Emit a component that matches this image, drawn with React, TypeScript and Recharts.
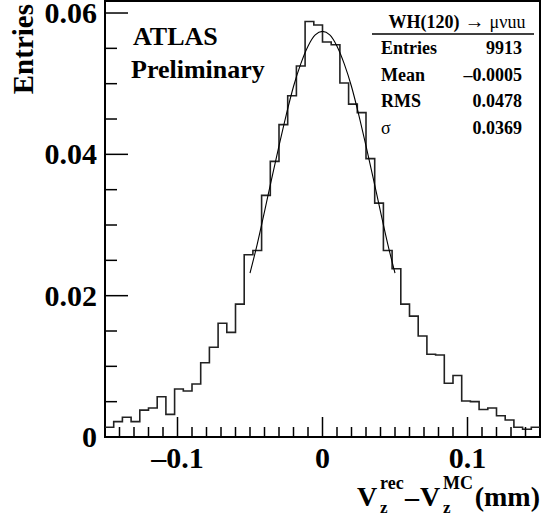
import { ComposedChart, Line, XAxis, YAxis, ReferenceArea } from "recharts";

// histogram: 50 bins of 0.006 from -0.15 to 0.15
const binLo = -0.15;
const binWidth = 0.006;
const binValues = [
  0.00137, 0.00217, 0.0028, 0.00217, 0.0038, 0.0041, 0.0057, 0.0032, 0.0068, 0.0065,
  0.0075, 0.0105, 0.0127, 0.0161, 0.0148, 0.0188, 0.0258, 0.0264, 0.0342, 0.039,
  0.0442, 0.0483, 0.0525, 0.0588, 0.0583, 0.0559, 0.0555, 0.0501, 0.0471, 0.0459,
  0.0394, 0.0331, 0.0264, 0.0238, 0.0188, 0.0171, 0.0143, 0.0117, 0.0116, 0.0076,
  0.0087, 0.0051, 0.005, 0.0039, 0.0041, 0.003, 0.0024, 0.00137, 0.0011, 0.00137,
];

// gaussian fit curve
const fitX = [
  -0.05, -0.045, -0.04, -0.035, -0.03, -0.025, -0.02, -0.015, -0.01, -0.005, 0,
  0.005, 0.01, 0.015, 0.02, 0.025, 0.03, 0.035, 0.04, 0.045, 0.05,
];
const fitY = [
  0.0232, 0.0273, 0.0319, 0.0366, 0.0412, 0.0456, 0.0496, 0.0528, 0.0553, 0.0569, 0.0574,
  0.0569, 0.0553, 0.0528, 0.0496, 0.0456, 0.0412, 0.0366, 0.0319, 0.0273, 0.0232,
];

const xTicks = [
  -0.14, -0.13, -0.12, -0.11, -0.1, -0.09, -0.08, -0.07, -0.06, -0.05, -0.04, -0.03, -0.02, -0.01,
  0, 0.01, 0.02, 0.03, 0.04, 0.05, 0.06, 0.07, 0.08, 0.09, 0.1, 0.11, 0.12, 0.13, 0.14,
];
const xMajor = [-0.1, 0, 0.1];
const yTicks = [0, 0.005, 0.01, 0.015, 0.02, 0.025, 0.03, 0.035, 0.04, 0.045, 0.05, 0.055, 0.06];
const yMajor = [0, 0.02, 0.04, 0.06];
const yMax = 0.0617;

const statsRows = [
  ["Entries", "9913"],
  ["Mean", "\u20130.0005"],
  ["RMS", "0.0478"],
];
const sigmaValue = "0.0369";

const FONT = "'Liberation Serif', 'DejaVu Serif', serif";

const histData = binValues.map((v, i) => ({ x: binLo + i * binWidth, y: v }));
histData.push({ x: binLo + binValues.length * binWidth, y: binValues[binValues.length - 1] });
const fitData = fitX.map((x, i) => ({ x, y: fitY[i] }));

const fmtX = (v: number) => (v < 0 ? "\u2013" + Math.abs(v) : String(v));

const XTick = (props: any) => {
  const { x, y, payload } = props;
  const major = xMajor.includes(payload.value);
  return (
    <g>
      <line x1={x} x2={x} y1={y} y2={y - (major ? 20 : 10)} stroke="#000" strokeWidth={1.5} />
      {major && (
        <text x={x} y={y + 31} textAnchor="middle" fontFamily={FONT} fontWeight="bold" fontSize={30} fill="#000">
          {fmtX(payload.value)}
        </text>
      )}
    </g>
  );
};

const YTick = (props: any) => {
  const { x, y, payload } = props;
  const major = yMajor.includes(payload.value);
  return (
    <g>
      <line x1={x} x2={x + (major ? 23 : 12)} y1={y} y2={y} stroke="#000" strokeWidth={1.5} />
      {major && (
        <text x={x - 8} y={y + 10} textAnchor="end" fontFamily={FONT} fontWeight="bold" fontSize={30} fill="#000">
          {String(payload.value)}
        </text>
      )}
    </g>
  );
};

export default function App() {
  return (
    <div style={{ position: "absolute", left: 0, top: 0, width: 545, height: 518, background: "#fff" }}>
      <ComposedChart width={545} height={518} margin={{ top: 1, right: 5, bottom: 0, left: 0 }}>
        <XAxis
          dataKey="x"
          type="number"
          domain={[-0.15, 0.15]}
          allowDataOverflow
          ticks={xTicks}
          interval={0}
          height={81}
          axisLine={false}
          tickLine={false}
          tickSize={0}
          tickMargin={0}
          tick={<XTick />}
        />
        <YAxis
          type="number"
          domain={[0, yMax]}
          allowDataOverflow
          ticks={yTicks}
          interval={0}
          width={105}
          axisLine={false}
          tickLine={false}
          tickSize={0}
          tickMargin={0}
          tick={<YTick />}
        />
        <Line
          data={histData}
          dataKey="y"
          type="stepAfter"
          stroke="#222"
          strokeWidth={1.6}
          dot={false}
          isAnimationActive={false}
        />
        <Line
          data={fitData}
          dataKey="y"
          type="monotone"
          stroke="#000"
          strokeWidth={1.1}
          dot={false}
          isAnimationActive={false}
        />
        <ReferenceArea x1={-0.15} x2={0.15} y1={0} y2={yMax} fill="none" stroke="#000" strokeWidth={2} />
      </ComposedChart>
      <svg
        width={545}
        height={518}
        style={{ position: "absolute", left: 0, top: 0, pointerEvents: "none" }}
        fontFamily={FONT}
        fontWeight="bold"
      >
        <text transform="translate(33,4) rotate(-90)" textAnchor="end" fontSize={29}>Entries</text>

        <text x={133} y={45} fontSize={26}>ATLAS</text>
        <text x={131} y={78} fontSize={26}>Preliminary</text>

        <text x={457} y={28} textAnchor="middle" fontSize={18}>
          WH(120)<tspan fontWeight="normal" fontSize={20}> {"\u2192"} </tspan>
          <tspan fontWeight="normal">{"\u03bc\u03bduu"}</tspan>
        </text>
        <line x1={372} x2={534} y1={34} y2={34} stroke="#000" strokeWidth={1.5} />
        {statsRows.map((r, i) => (
          <g key={r[0]}>
            <text x={381} y={54 + i * 26.5} fontSize={18}>{r[0]}</text>
            <text x={522} y={54 + i * 26.5} fontSize={18} textAnchor="end">{r[1]}</text>
          </g>
        ))}
        <text x={381} y={133.5} fontSize={18} fontWeight="normal">{"\u03c3"}</text>
        <text x={522} y={133.5} fontSize={18} textAnchor="end">{sigmaValue}</text>

        <text x={357} y={506} fontSize={28}>V</text>
        <text x={380} y={489} fontSize={18}>rec</text>
        <text x={380} y={513} fontSize={17}>z</text>
        <text x={405} y={506} fontSize={28}>{"\u2013"}</text>
        <text x={420} y={506} fontSize={28}>V</text>
        <text x={443} y={489} fontSize={18}>MC</text>
        <text x={443} y={513} fontSize={17}>z</text>
        <text x={540} y={506} fontSize={28} textAnchor="end">(mm)</text>
      </svg>
    </div>
  );
}
